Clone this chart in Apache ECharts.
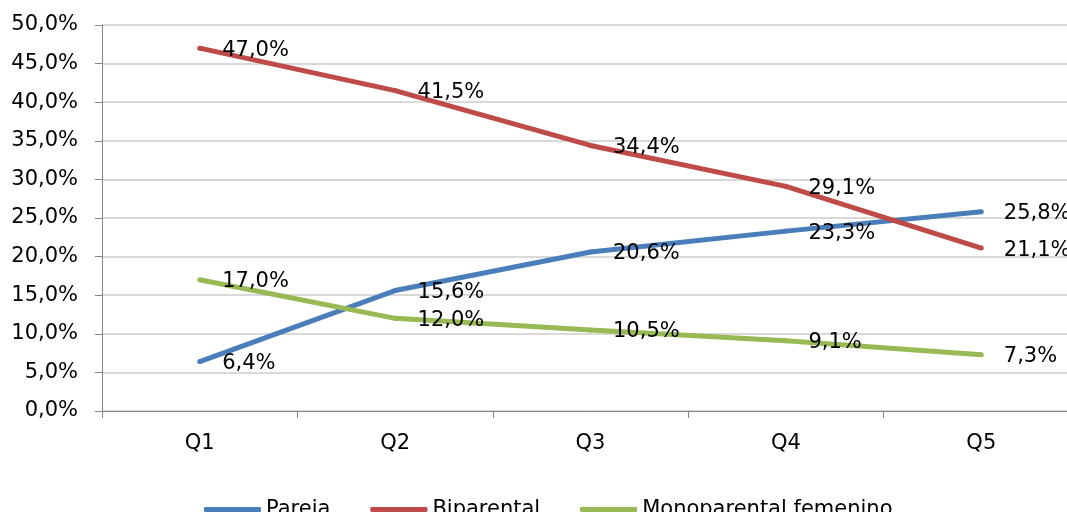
<!DOCTYPE html>
<html>
<head>
    <meta charset="utf-8">
    <script src="https://cdn.jsdelivr.net/npm/echarts@6/dist/echarts.min.js"></script>
</head>
<body style="margin:0">
    <div id="main" style="width:1067px;height:512px;"></div>
    <script type="text/javascript">
        // datos
        var quintiles = ['Q1', 'Q2', 'Q3', 'Q4', 'Q5'];
        var pareja = [6.4, 15.6, 20.6, 23.3, 25.8];
        var biparental = [47.0, 41.5, 34.4, 29.1, 21.1];
        var monoparental = [17.0, 12.0, 10.5, 9.1, 7.3];
        var seriesNames = ['Pareja', 'Biparental', 'Monoparental femenino'];
        var colors = ['#4A7EBB', '#BE4B48', '#98B954'];

        var font = 'DejaVu Sans';
        var fs = 21;
        function pct(v) {
            return v.toFixed(1).replace('.', ',') + '%';
        }

        function makeSeries(name, data, color) {
            return {
                name: name,
                type: 'line',
                data: data,
                symbol: 'circle',
                symbolSize: 5,
                showSymbol: true,
                lineStyle: { width: 5, color: color },
                itemStyle: { color: color },
                label: {
                    show: true,
                    position: 'right',
                    distance: 20,
                    offset: [0, 2],
                    fontFamily: font,
                    fontSize: fs,
                    color: '#000',
                    formatter: function (p) { return pct(p.value); }
                }
            };
        }

        var myChart = echarts.init(document.getElementById('main'));
        var option = {
            animation: false,
            grid: { left: 102, right: -12, top: 25, bottom: 101, outerBoundsMode: 'none' },
            legend: {
                left: 199,
                bottom: -13,
                icon: 'roundRect',
                itemWidth: 57,
                itemHeight: 5,
                itemGap: 40,
                textStyle: { fontFamily: font, fontSize: fs, color: '#000' },
                data: seriesNames
            },
            xAxis: {
                type: 'category',
                data: quintiles,
                boundaryGap: true,
                axisLine: { lineStyle: { color: '#868686', width: 1 } },
                axisTick: { show: true, interval: 0, length: 7, lineStyle: { color: '#868686' } },
                axisLabel: { margin: 22, fontFamily: font, fontSize: fs, color: '#000' }
            },
            yAxis: {
                type: 'value',
                min: 0,
                max: 50,
                interval: 5,
                axisLine: { show: true, lineStyle: { color: '#868686', width: 1 } },
                axisTick: { show: true, length: 7, lineStyle: { color: '#868686' } },
                splitLine: { lineStyle: { color: '#D9D9D9', width: 2 } },
                axisLabel: {
                    margin: 24,
                    fontFamily: font,
                    fontSize: fs,
                    color: '#000',
                    formatter: function (v) { return pct(v); }
                }
            },
            series: [
                makeSeries(seriesNames[0], pareja, colors[0]),
                makeSeries(seriesNames[1], biparental, colors[1]),
                makeSeries(seriesNames[2], monoparental, colors[2])
            ]
        };
        myChart.setOption(option);
    </script>
</body>
</html>
